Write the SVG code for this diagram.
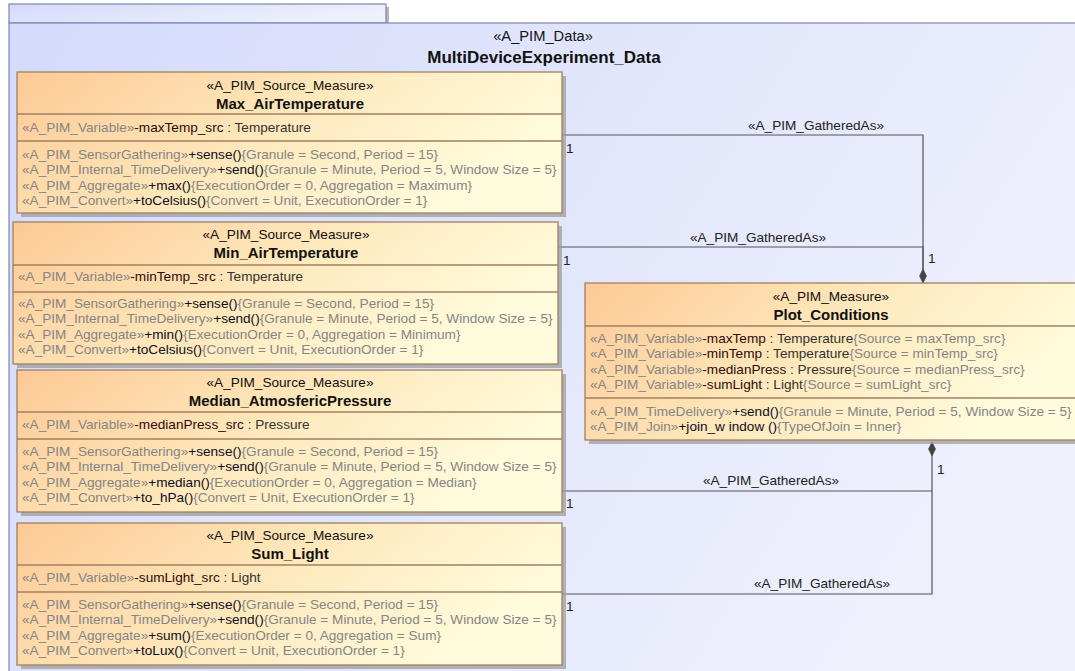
<svg xmlns="http://www.w3.org/2000/svg" width="1075" height="671" viewBox="0 0 1075 671">
<defs>
<linearGradient id="pkg" x1="0" y1="0" x2="1" y2="0.4">
<stop offset="0" stop-color="#d4dbfb"/>
<stop offset="1" stop-color="#eef0fc"/>
</linearGradient>
<linearGradient id="cls" x1="0" y1="0" x2="1" y2="0.35">
<stop offset="0" stop-color="#fdc995"/>
<stop offset="0.55" stop-color="#fee9bd"/>
<stop offset="1" stop-color="#fffbdc"/>
</linearGradient>
<marker id="dia" viewBox="0 0 14 8" refX="14" refY="4" markerWidth="14" markerHeight="8" orient="auto" markerUnits="userSpaceOnUse">
<path d="M0,4 L7,0.5 L14,4 L7,7.5 Z" fill="#444" stroke="#444" stroke-width="0.6"/>
</marker>
</defs>
<style>
text{font-family:"Liberation Sans",Arial,sans-serif;font-size:13.6px;fill:#333}
.st{fill:#111}
.nm{font-weight:bold;fill:#111;font-size:15px}
.g{fill:#858585}
.n{fill:#2a0d0d}
.o{fill:#0d0d22}
.box{fill:url(#cls);stroke:#a08060;stroke-width:1.3}
.sh{fill:#9e9e9e;opacity:0.75}
.sep{stroke:#a08060;stroke-width:1.3}
.con{fill:none;stroke:#555;stroke-width:1.2}
.lbl{fill:#222}
.pt{font-size:14.7px;fill:#111}
.pn{font-size:17px;font-weight:bold;fill:#111}
</style>

<g id="package">
<rect x="12" y="7" width="377" height="19" class="sh"/>
<rect x="9" y="4" width="377" height="19" fill="url(#pkg)" stroke="#7c86b4" stroke-width="1.2"/>
<rect x="9" y="23" width="1080" height="660" fill="url(#pkg)" stroke="#7c86b4" stroke-width="1.2"/>
<text x="543" y="41" text-anchor="middle" class="pt">«A_PIM_Data»</text>
<text x="544" y="63" text-anchor="middle" class="pn">MultiDeviceExperiment_Data</text>
</g>

<g id="connectors">
<polyline class="con" points="562,135 923,135 923,283" marker-end="url(#dia)"/>
<polyline class="con" points="558,247 923,247 923,270"/>
<polyline class="con" points="562,491 932,491 932,442" marker-end="url(#dia)"/>
<polyline class="con" points="562,594 932,594 932,491"/>
<text x="816" y="130" text-anchor="middle" class="lbl">«A_PIM_GatheredAs»</text>
<text x="758" y="242" text-anchor="middle" class="lbl">«A_PIM_GatheredAs»</text>
<text x="771" y="485" text-anchor="middle" class="lbl">«A_PIM_GatheredAs»</text>
<text x="822" y="588" text-anchor="middle" class="lbl">«A_PIM_GatheredAs»</text>
<text x="566" y="153" class="lbl">1</text>
<text x="563" y="265" class="lbl">1</text>
<text x="928" y="263" class="lbl">1</text>
<text x="937" y="474" class="lbl">1</text>
<text x="566" y="508" class="lbl">1</text>
<text x="566" y="611" class="lbl">1</text>
</g>

<g id="Max_AirTemperature">
<rect x="21" y="76" width="545" height="141" class="sh"/>
<rect x="17" y="72" width="545" height="141" class="box"/>
<line x1="17" y1="114" x2="562" y2="114" class="sep"/>
<line x1="17" y1="141" x2="562" y2="141" class="sep"/>
<text x="290" y="90" text-anchor="middle" class="st">«A_PIM_Source_Measure»</text>
<text x="290" y="109" text-anchor="middle" class="nm">Max_AirTemperature</text>
<text x="22" y="132"><tspan class="g">«A_PIM_Variable»</tspan><tspan class="n">-maxTemp_src</tspan> : Temperature</text>
<text x="22" y="159"><tspan class="g">«A_PIM_SensorGathering»</tspan><tspan class="o">+sense()</tspan><tspan class="g">{Granule = Second, Period = 15}</tspan></text>
<text x="22" y="174"><tspan class="g">«A_PIM_Internal_TimeDelivery»</tspan><tspan class="o">+send()</tspan><tspan class="g">{Granule = Minute, Period = 5, Window Size = 5}</tspan></text>
<text x="22" y="190"><tspan class="g">«A_PIM_Aggregate»</tspan><tspan class="o">+max()</tspan><tspan class="g">{ExecutionOrder = 0, Aggregation = Maximum}</tspan></text>
<text x="22" y="205"><tspan class="g">«A_PIM_Convert»</tspan><tspan class="o">+toCelsius()</tspan><tspan class="g">{Convert = Unit, ExecutionOrder = 1}</tspan></text>
</g>

<g id="Min_AirTemperature">
<rect x="17" y="226" width="545" height="142" class="sh"/>
<rect x="13" y="222" width="545" height="142" class="box"/>
<line x1="13" y1="265" x2="558" y2="265" class="sep"/>
<line x1="13" y1="292" x2="558" y2="292" class="sep"/>
<text x="286" y="239" text-anchor="middle" class="st">«A_PIM_Source_Measure»</text>
<text x="286" y="258" text-anchor="middle" class="nm">Min_AirTemperature</text>
<text x="18" y="281"><tspan class="g">«A_PIM_Variable»</tspan><tspan class="n">-minTemp_src</tspan> : Temperature</text>
<text x="18" y="308"><tspan class="g">«A_PIM_SensorGathering»</tspan><tspan class="o">+sense()</tspan><tspan class="g">{Granule = Second, Period = 15}</tspan></text>
<text x="18" y="323"><tspan class="g">«A_PIM_Internal_TimeDelivery»</tspan><tspan class="o">+send()</tspan><tspan class="g">{Granule = Minute, Period = 5, Window Size = 5}</tspan></text>
<text x="18" y="339"><tspan class="g">«A_PIM_Aggregate»</tspan><tspan class="o">+min()</tspan><tspan class="g">{ExecutionOrder = 0, Aggregation = Minimum}</tspan></text>
<text x="18" y="354"><tspan class="g">«A_PIM_Convert»</tspan><tspan class="o">+toCelsius()</tspan><tspan class="g">{Convert = Unit, ExecutionOrder = 1}</tspan></text>
</g>

<g id="Median_AtmosfericPressure">
<rect x="21" y="374" width="545" height="142" class="sh"/>
<rect x="17" y="370" width="545" height="142" class="box"/>
<line x1="17" y1="412" x2="562" y2="412" class="sep"/>
<line x1="17" y1="439" x2="562" y2="439" class="sep"/>
<text x="290" y="387" text-anchor="middle" class="st">«A_PIM_Source_Measure»</text>
<text x="290" y="406" text-anchor="middle" class="nm">Median_AtmosfericPressure</text>
<text x="22" y="429"><tspan class="g">«A_PIM_Variable»</tspan><tspan class="n">-medianPress_src</tspan> : Pressure</text>
<text x="22" y="456"><tspan class="g">«A_PIM_SensorGathering»</tspan><tspan class="o">+sense()</tspan><tspan class="g">{Granule = Second, Period = 15}</tspan></text>
<text x="22" y="471"><tspan class="g">«A_PIM_Internal_TimeDelivery»</tspan><tspan class="o">+send()</tspan><tspan class="g">{Granule = Minute, Period = 5, Window Size = 5}</tspan></text>
<text x="22" y="487"><tspan class="g">«A_PIM_Aggregate»</tspan><tspan class="o">+median()</tspan><tspan class="g">{ExecutionOrder = 0, Aggregation = Median}</tspan></text>
<text x="22" y="502"><tspan class="g">«A_PIM_Convert»</tspan><tspan class="o">+to_hPa()</tspan><tspan class="g">{Convert = Unit, ExecutionOrder = 1}</tspan></text>
</g>

<g id="Sum_Light">
<rect x="21" y="527" width="545" height="142" class="sh"/>
<rect x="17" y="523" width="545" height="142" class="box"/>
<line x1="17" y1="565" x2="562" y2="565" class="sep"/>
<line x1="17" y1="592" x2="562" y2="592" class="sep"/>
<text x="290" y="540" text-anchor="middle" class="st">«A_PIM_Source_Measure»</text>
<text x="290" y="559" text-anchor="middle" class="nm">Sum_Light</text>
<text x="22" y="582"><tspan class="g">«A_PIM_Variable»</tspan><tspan class="n">-sumLight_src</tspan> : Light</text>
<text x="22" y="609"><tspan class="g">«A_PIM_SensorGathering»</tspan><tspan class="o">+sense()</tspan><tspan class="g">{Granule = Second, Period = 15}</tspan></text>
<text x="22" y="624"><tspan class="g">«A_PIM_Internal_TimeDelivery»</tspan><tspan class="o">+send()</tspan><tspan class="g">{Granule = Minute, Period = 5, Window Size = 5}</tspan></text>
<text x="22" y="640"><tspan class="g">«A_PIM_Aggregate»</tspan><tspan class="o">+sum()</tspan><tspan class="g">{ExecutionOrder = 0, Aggregation = Sum}</tspan></text>
<text x="22" y="655"><tspan class="g">«A_PIM_Convert»</tspan><tspan class="o">+toLux()</tspan><tspan class="g">{Convert = Unit, ExecutionOrder = 1}</tspan></text>
</g>

<g id="Plot_Conditions">
<rect x="589" y="287" width="492" height="157" class="sh"/>
<rect x="585" y="283" width="492" height="157" class="box"/>
<line x1="585" y1="326" x2="1077" y2="326" class="sep"/>
<line x1="585" y1="398" x2="1077" y2="398" class="sep"/>
<text x="831" y="301" text-anchor="middle" class="st">«A_PIM_Measure»</text>
<text x="831" y="320" text-anchor="middle" class="nm">Plot_Conditions</text>
<text x="590" y="343"><tspan class="g">«A_PIM_Variable»</tspan><tspan class="n">-maxTemp</tspan> : Temperature<tspan class="g">{Source = maxTemp_src}</tspan></text>
<text x="590" y="358"><tspan class="g">«A_PIM_Variable»</tspan><tspan class="n">-minTemp</tspan> : Temperature<tspan class="g">{Source = minTemp_src}</tspan></text>
<text x="590" y="374"><tspan class="g">«A_PIM_Variable»</tspan><tspan class="n">-medianPress</tspan> : Pressure<tspan class="g">{Source = medianPress_src}</tspan></text>
<text x="590" y="389"><tspan class="g">«A_PIM_Variable»</tspan><tspan class="n">-sumLight</tspan> : Light<tspan class="g">{Source = sumLight_src}</tspan></text>
<text x="590" y="416"><tspan class="g">«A_PIM_TimeDelivery»</tspan><tspan class="o">+send()</tspan><tspan class="g">{Granule = Minute, Period = 5, Window Size = 5}</tspan></text>
<text x="590" y="431"><tspan class="g">«A_PIM_Join»</tspan><tspan class="o">+join_w indow ()</tspan><tspan class="g">{TypeOfJoin = Inner}</tspan></text>
</g>
</svg>
